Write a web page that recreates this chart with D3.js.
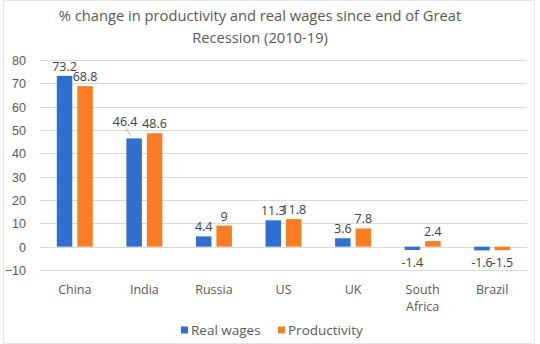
<!DOCTYPE html>
<html>
<head>
<meta charset="utf-8">
<script src="https://cdn.jsdelivr.net/npm/d3@7"></script>
<style>
  body { margin: 0; background: #fff; }
  svg { display: block; font-family: "Open Sans", "Liberation Sans", sans-serif; }
  .grid line { stroke: #d9d9d9; stroke-width: 1; }
  .tick text { fill: #595959; }
</style>
</head>
<body>
<div id="chart"></div>
<script>
const countries = ["China", "India", "Russia", "US", "UK", "South Africa", "Brazil"];
const realWages = [73.2, 46.4, 4.4, 11.3, 3.6, -1.4, -1.6];
const productivity = [68.8, 48.6, 9, 11.8, 7.8, 2.4, -1.5];
const seriesNames = ["Real wages", "Productivity"];
const yTicks = [-10, 0, 10, 20, 30, 40, 50, 60, 70, 80];

const width = 540, height = 344;
const margin = {top: 60, right: 13, bottom: 74, left: 40};
const colors = ["#2f6fcf", "#fb7d22"];

const svg = d3.select('#chart').append('svg')
  .attr('width', width)
  .attr('height', height);

// chart frame
svg.append('rect')
  .attr('x', 3.5).attr('y', 0.5)
  .attr('width', 531).attr('height', 343)
  .attr('fill', '#fff')
  .attr('stroke', '#e6e6e6');

const x = d3.scaleBand()
  .domain(countries)
  .range([margin.left, width - margin.right]);

const y = d3.scaleLinear()
  .domain([-10, 80])
  .range([height - margin.bottom, margin.top]);

const inner = d3.scaleBand()
  .domain(seriesNames)
  .range([0, x.bandwidth()])
  .paddingInner(0.245)
  .paddingOuter(0.82);

// gridlines
svg.append('g')
  .attr('class', 'grid')
  .selectAll('line')
  .data(yTicks)
  .enter().append('line')
    .attr('x1', margin.left)
    .attr('x2', width - margin.right)
    .attr('y1', d => Math.round(y(d)) + 0.5)
    .attr('y2', d => Math.round(y(d)) + 0.5);

// y axis labels
const yAxis = svg.append('g')
  .attr('transform', 'translate(' + (margin.left - 14) + ',0)')
  .call(d3.axisLeft(y).tickValues(yTicks).tickSize(0).tickPadding(0));
yAxis.select('.domain').remove();
yAxis.selectAll('text')
  .style('font-size', '12.5px')
  .attr('dy', '0.35em');

const rows = countries.map((c, i) => ({
  country: c,
  values: [realWages[i], productivity[i]]
}));

const groups = svg.append('g')
  .selectAll('g')
  .data(rows)
  .enter().append('g')
    .attr('transform', d => 'translate(' + x(d.country) + ',0)');

groups.selectAll('rect')
  .data(d => d.values.map((v, j) => ({series: seriesNames[j], value: v, j: j})))
  .enter().append('rect')
    .attr('x', d => inner(d.series))
    .attr('width', inner.bandwidth())
    .attr('y', d => y(Math.max(0, d.value)))
    .attr('height', d => Math.abs(y(d.value) - y(0)))
    .attr('fill', d => colors[d.j]);

// value labels
groups.selectAll('text.val')
  .data(d => d.values.map((v, j) => ({series: seriesNames[j], value: v, j: j, country: d.country})))
  .enter().append('text')
    .attr('class', 'val')
    .attr('x', d => inner(d.series) + inner.bandwidth() / 2 + (d.country == 'India' && d.j == 0 ? -9 : 0))
    .attr('y', d => d.value >= 0
        ? y(d.value) - 5 - (d.country == 'India' && d.j == 0 ? 7 : 0)
        : y(d.value) + 17)
    .attr('text-anchor', 'middle')
    .style('font-size', '12.5px')
    .attr('fill', '#404040')
    .text(d => d.value);

// leader line for the nudged India label
const ind = x('India') + inner('Real wages') + inner.bandwidth() / 2;
svg.append('line')
  .attr('x1', ind - 8).attr('y1', y(46.4) - 10)
  .attr('x2', ind - 3).attr('y2', y(46.4) - 2)
  .attr('stroke', '#a6a6a6')
  .attr('stroke-width', 0.8);

// category labels, split on space for "South Africa"
const cat = svg.append('g')
  .selectAll('text')
  .data(countries)
  .enter().append('text')
    .attr('x', d => x(d) + x.bandwidth() / 2)
    .attr('y', height - margin.bottom + 24)
    .attr('text-anchor', 'middle')
    .style('font-size', '12.5px')
    .attr('fill', '#595959');
cat.each(function(d) {
  const words = d.split(' ');
  d3.select(this).selectAll('tspan')
    .data(words)
    .enter().append('tspan')
      .attr('x', x(d) + x.bandwidth() / 2)
      .attr('dy', (w, i) => i == 0 ? 0 : 17)
      .text(w => w);
});

// title
const title = svg.append('text')
  .attr('x', 260)
  .attr('text-anchor', 'middle')
  .style('font-size', '14.7px')
  .attr('fill', '#595959');
title.append('tspan').attr('x', 260).attr('y', 21)
  .text('% change in productivity and real wages since end of Great');
title.append('tspan').attr('x', 260).attr('y', 43)
  .text('Recession (2010-19)');

// legend
const legend = svg.append('g')
  .attr('transform', 'translate(181,330)');
const li = legend.selectAll('g')
  .data(seriesNames)
  .enter().append('g')
    .attr('transform', (d, i) => 'translate(' + (i * 97) + ',0)');
li.append('rect')
  .attr('x', 0).attr('y', -3.5)
  .attr('width', 7).attr('height', 7)
  .attr('fill', (d, i) => colors[i]);
li.append('text')
  .attr('x', 10)
  .attr('dy', '0.35em')
  .style('font-size', '13.5px')
  .attr('fill', '#595959')
  .text(d => d);
</script>
</body>
</html>
